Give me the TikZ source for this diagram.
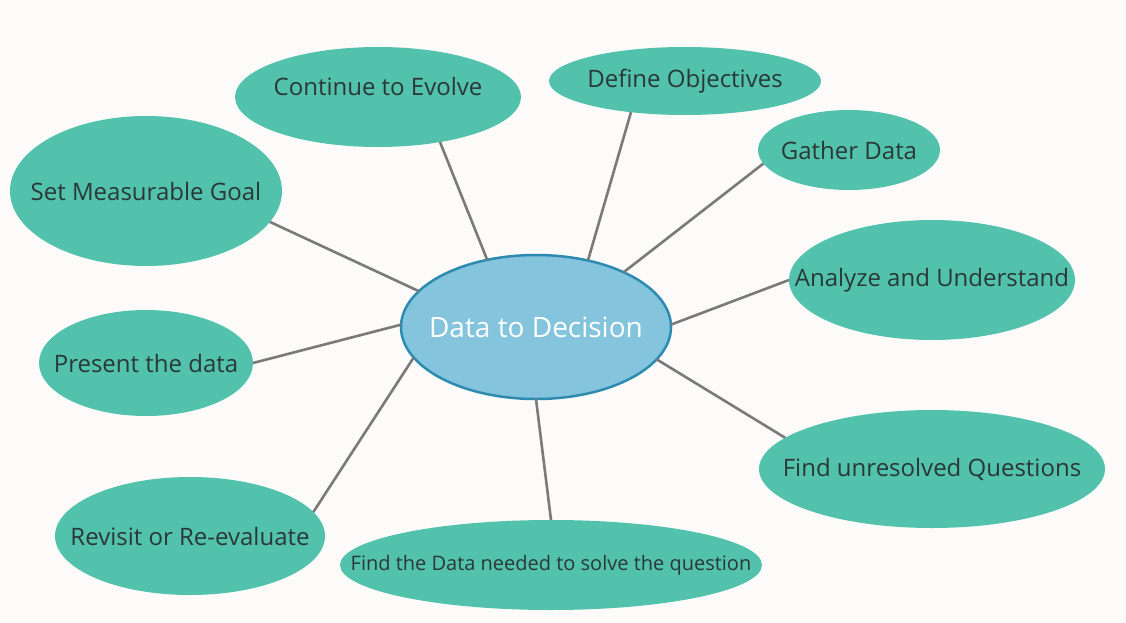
\documentclass[tikz,border=0pt]{standalone}
\usepackage{fontspec}
\setmainfont{Open Sans}
\usetikzlibrary{shapes.geometric}
\definecolor{bg}{HTML}{FCFBFA}
\definecolor{teal}{HTML}{52C2AC}
\definecolor{cfill}{HTML}{84C4DD}
\definecolor{cborder}{HTML}{2E8BB0}
\definecolor{txt}{HTML}{2A3838}
\definecolor{edge}{HTML}{7A7A7A}
\newcommand\zw[1]{\makebox[0pt]{#1}}
\tikzset{
  leaf/.style={ellipse, fill=teal, draw=none, inner sep=0pt, outer sep=0pt, text=txt, font=\fontsize{24}{28}\selectfont},
  hub/.style={ellipse, fill=cfill, draw=cborder, line width=2.5pt, inner sep=0pt, outer sep=0pt, text=white, font=\fontsize{28}{32}\selectfont},
  link/.style={draw=edge, line width=2.6pt}
}
\begin{document}
\begin{tikzpicture}[x=1pt,y=-1pt]
\fill[bg] (0,0) rectangle (1126,623);
\useasboundingbox (0,0) rectangle (1126,623);
\node[hub, minimum width=270, minimum height=144] (c) at (536,327) {\zw{Data to Decision}};
\node[leaf, minimum width=286, minimum height=100] (evolve) at (378,97) {\raisebox{1.5pt}[0pt][0pt]{\zw{Continue to Evolve}}};
\node[leaf, minimum width=272, minimum height=68] (obj) at (685,81) {\zw{Define Objectives}};
\node[leaf, minimum width=182, minimum height=80] (gather) at (849,150) {\zw{Gather Data}};
\node[leaf, minimum width=272, minimum height=150] (goal) at (146,191) {\zw{Set Measurable Goal}};
\node[leaf, minimum width=286, minimum height=120] (analyze) at (932,280) {\zw{Analyze and Understand}};
\node[leaf, minimum width=214, minimum height=106] (present) at (146,363) {\zw{Present the data}};
\node[leaf, minimum width=346, minimum height=118] (unres) at (932,469) {\zw{Find unresolved Questions}};
\node[leaf, minimum width=270, minimum height=118] (revisit) at (190,536) {\zw{Revisit or Re-evaluate}};
\node[leaf, minimum width=422, minimum height=90, font=\fontsize{20}{24}\selectfont] (finddata) at (551,565) {\zw{Find the Data needed to solve the question}};
\draw[link] (c.126.9) -- (evolve.-36.6);
\draw[link] (c.52.7) -- (obj.210.3);
\draw[link] (c.32.3) -- (gather.189.3);
\draw[link] (c.163.1) -- (goal.-14.9);
\draw[link] (c.1.3) -- (analyze.180.4);
\draw[link] (c.179) -- (present.0.5);
\draw[link] (c.-15.6) -- (unres.168.8);
\draw[link] (c.194.3) -- (revisit.11);
\draw[link] (c.-90) -- (finddata.90);
\end{tikzpicture}
\end{document}
